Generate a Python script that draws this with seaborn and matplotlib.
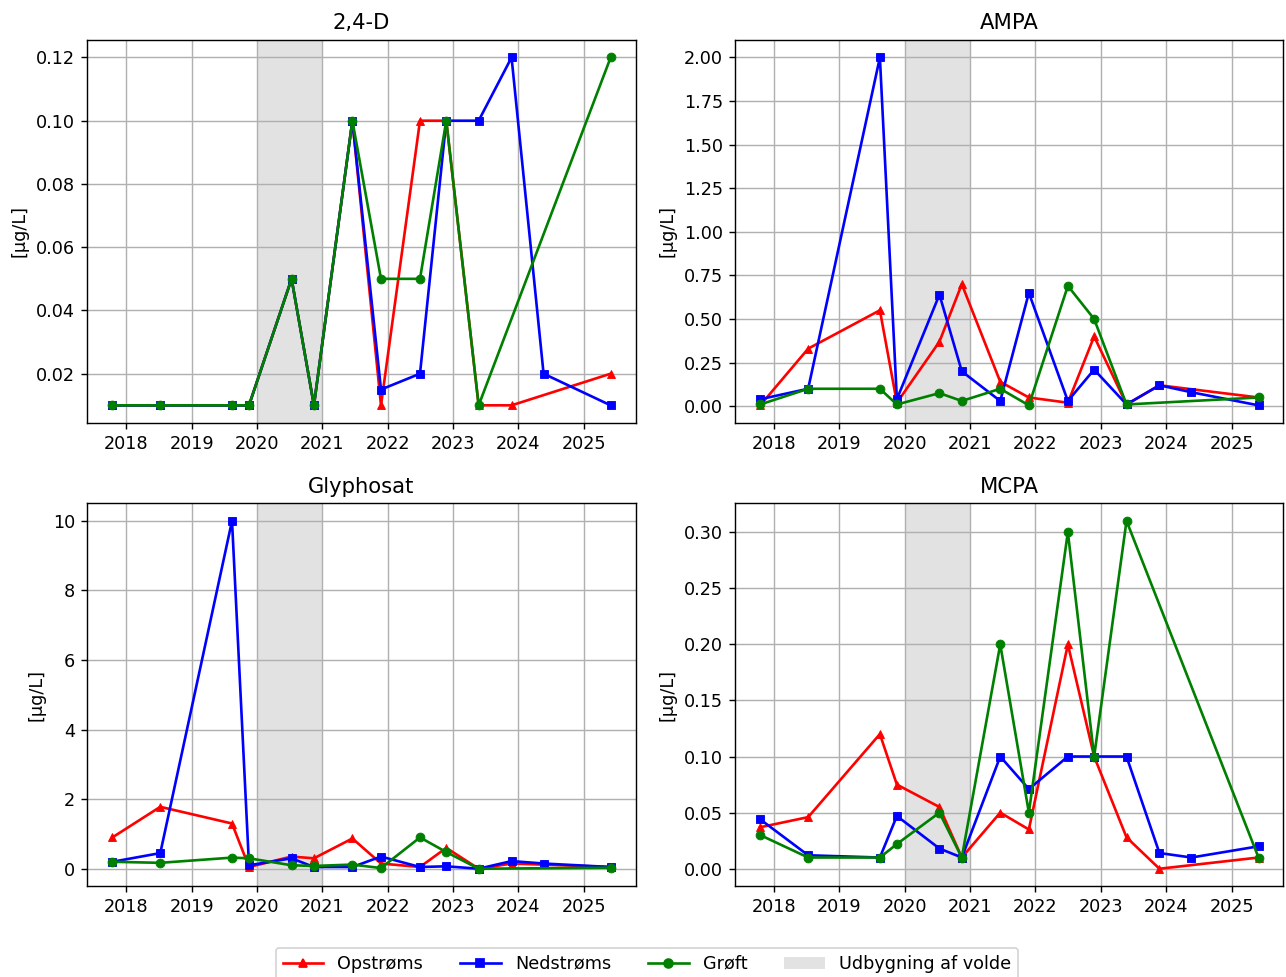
import numpy as np
import pandas as pd
import matplotlib
matplotlib.use("Agg")
import matplotlib.pyplot as plt
import seaborn as sns
from matplotlib.lines import Line2D
from matplotlib.patches import Patch

dates = ["2017-10-15", "2018-07-10", "2019-08-15", "2019-11-18", "2020-07-13",
         "2020-11-15", "2021-06-18", "2021-11-25", "2022-07-01", "2022-11-25",
         "2023-05-25", "2023-11-25", "2024-05-22", "2025-06-01"]

substances = ["2,4-D", "AMPA", "Glyphosat", "MCPA"]
series_names = ["Opstrøms", "Nedstrøms", "Grøft"]

# None = no sample for that station on that date
d24_op = [0.01, 0.01, 0.01, 0.01, 0.05, 0.01, 0.10, 0.01, 0.10, 0.10, 0.01, 0.01, None, 0.02]
d24_ned = [0.01, 0.01, 0.01, 0.01, 0.05, 0.01, 0.10, 0.015, 0.02, 0.10, 0.10, 0.12, 0.02, 0.01]
d24_gr = [0.01, 0.01, 0.01, 0.01, 0.05, 0.01, 0.10, 0.05, 0.05, 0.10, 0.01, None, None, 0.12]

ampa_op = [0.005, 0.33, 0.55, 0.02, 0.37, 0.70, 0.14, 0.05, 0.02, 0.40, 0.01, 0.12, None, 0.05]
ampa_ned = [0.04, 0.10, 2.00, 0.04, 0.64, 0.20, 0.03, 0.65, 0.03, 0.21, 0.01, 0.12, 0.08, 0.005]
ampa_gr = [0.01, 0.10, 0.10, 0.01, 0.075, 0.03, 0.10, 0.005, 0.69, 0.50, 0.01, None, None, 0.05]

gly_op = [0.9, 1.78, 1.3, 0.05, 0.35, 0.3, 0.87, 0.15, 0.05, 0.6, 0.0, 0.15, None, 0.05]
gly_ned = [0.2, 0.45, 10.0, 0.1, 0.3, 0.05, 0.05, 0.35, 0.05, 0.07, 0.0, 0.22, 0.15, 0.05]
gly_gr = [0.2, 0.17, 0.32, 0.3, 0.1, 0.08, 0.12, 0.02, 0.9, 0.48, 0.0, None, None, 0.03]

mcpa_op = [0.037, 0.046, 0.12, 0.075, 0.055, 0.01, 0.05, 0.035, 0.20, 0.10, 0.028, 0.0, None, 0.01]
mcpa_ned = [0.044, 0.012, 0.01, 0.047, 0.018, 0.01, 0.10, 0.071, 0.10, 0.10, 0.10, 0.014, 0.01, 0.02]
mcpa_gr = [0.03, 0.01, 0.01, 0.022, 0.05, 0.01, 0.20, 0.05, 0.30, 0.10, 0.31, None, None, 0.01]

data = {
    "2,4-D": [d24_op, d24_ned, d24_gr],
    "AMPA": [ampa_op, ampa_ned, ampa_gr],
    "Glyphosat": [gly_op, gly_ned, gly_gr],
    "MCPA": [mcpa_op, mcpa_ned, mcpa_gr],
}

colors = ["red", "blue", "green"]
markers = ["^", "s", "o"]

build_start = "2020-01-01"
build_end = "2021-01-01"

DPI = 127
fig, axes = plt.subplots(2, 2, figsize=(1286 / DPI, 977 / DPI), dpi=DPI)
fig.subplots_adjust(left=0.068, right=0.998, top=0.959, bottom=0.093,
                    wspace=0.182, hspace=0.211)

x = pd.to_datetime(dates)
for ax, sub in zip(axes.flat, substances):
    ax.axvspan(pd.Timestamp(build_start), pd.Timestamp(build_end),
               color="lightgray", alpha=0.65, zorder=0, lw=0)
    for vals, name, c, m in zip(data[sub], series_names, colors, markers):
        df = pd.DataFrame({"date": x, "val": vals}).dropna()
        sns.lineplot(data=df, x="date", y="val", ax=ax, color=c, marker=m,
                     markersize=5, markeredgecolor=c, markeredgewidth=0.5,
                     linewidth=1.5, label=name, legend=False)
    ax.set_title(sub, fontsize=12)
    ax.set_ylabel("[µg/L]")
    ax.set_xlabel("")
    ax.grid(True, color="#b0b0b0", linewidth=0.8)
    ax.set_axisbelow(True)

handles = [Line2D([], [], color=c, marker=m, markersize=5, linewidth=1.5)
           for c, m in zip(colors, markers)]
handles.append(Patch(facecolor="lightgray", alpha=0.65, edgecolor="none"))
labels = series_names + ["Udbygning af volde"]
fig.legend(handles, labels, loc="lower center", bbox_to_anchor=(0.503, -0.012),
           ncol=4, fontsize=10, frameon=True, handlelength=2.3,
           columnspacing=2.1)

fig.savefig("out.png", dpi=DPI)
